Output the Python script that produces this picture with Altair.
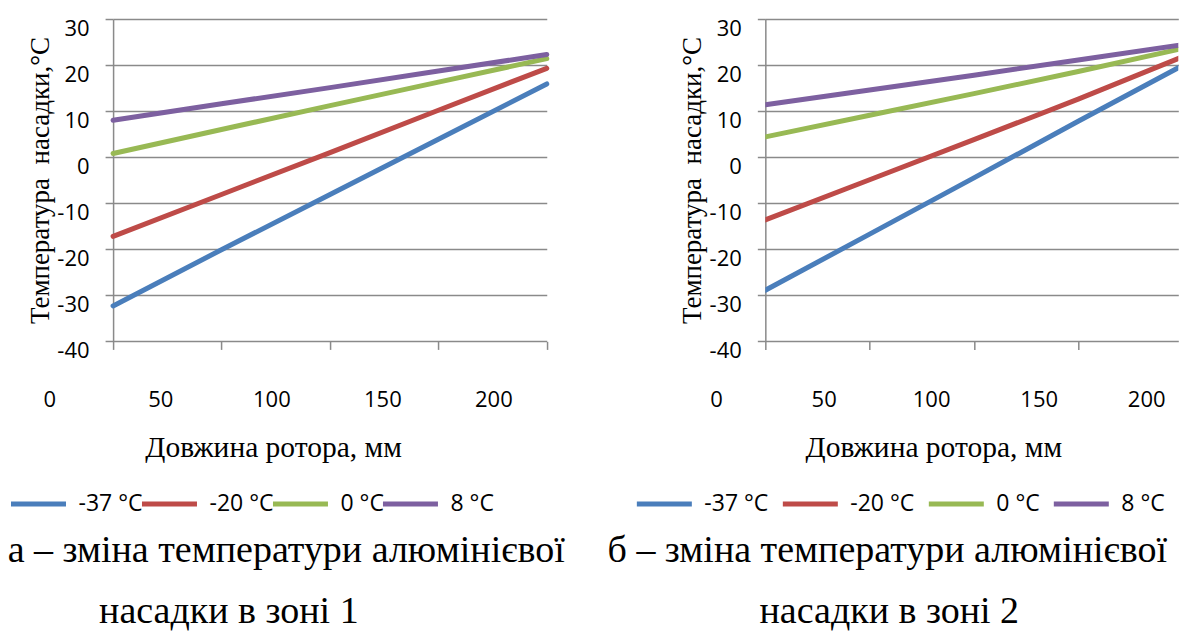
import altair as alt
import pandas as pd

series = ["-37 °C", "-20 °C", "0 °C", "8 °C"]
colors = ["#4A7EBB", "#BE4B48", "#98B954", "#7D60A0"]

# panel a (zone 1): positions of the category ticks on the mm label scale
x_a = [28.5, 77.3, 126.2, 175.0, 223.8]
a_m37 = [-32.3, -20.1, -8.1, 3.9, 15.9]
a_m20 = [-17.2, -8.1, 1.0, 10.2, 19.3]
a_0 = [0.8, 6.0, 11.2, 16.3, 21.4]
a_8 = [8.0, 11.6, 15.1, 18.7, 22.3]

# panel b (zone 2)
x_b = [22.65, 71.15, 119.65, 168.15, 216.65]
b_m37 = [-28.9, -16.7, -4.5, 7.8, 19.9]
b_m20 = [-13.6, -4.9, 3.8, 12.6, 21.8]
b_0 = [4.4, 9.1, 13.8, 18.6, 23.6]
b_8 = [11.4, 14.6, 17.8, 21.1, 24.4]

x_labels = [0, 50, 100, 150, 200]
y_ticks = [-40, -30, -20, -10, 0, 10, 20, 30]

y_title = "Температура\u00a0 насадки,°C"
x_title = "Довжина ротора, мм"
cap_a = ["а – зміна температури алюмінієвої", "насадки в зоні 1"]
cap_b = ["б – зміна температури алюмінієвої", "насадки в зоні 2"]

GRID = "#8a8a8a"
SERIF = "Liberation Serif"
SANS = "Open Sans"


def panel(xs_vals, vals, domain, width, xtick_vals, title_x, leg_x, leg_grid, leg_pad,
          caps, cap_x, clip):
    rows = []
    for s, v in zip(series, vals):
        for xv, yv in zip(xs_vals, v):
            rows.append({"x": xv, "t": yv, "s": s})
    df = pd.DataFrame(rows)
    xs = alt.Scale(domain=domain, nice=False, zero=False)
    ys = alt.Scale(domain=[-40, 30], nice=False, zero=False)
    x_axis = alt.Axis(
        values=xtick_vals, labels=False, ticks=True, tickSize=8, tickWidth=1.5,
        tickColor=GRID, domain=False, grid=False,
        title=x_title, titleFont=SERIF, titleFontSize=29.5, titleFontWeight="normal",
        titleColor="black", titleX=title_x, titleY=115.5, titleAlign="center",
        titleBaseline="alphabetic")
    color = alt.Color(
        "s:N",
        scale=alt.Scale(domain=series, range=colors),
        sort=series,
        legend=alt.Legend(
            orient="none", legendX=leg_x, legendY=455, direction="horizontal",
            columns=4, title=None, symbolType="stroke", symbolSize=3025,
            symbolStrokeWidth=5, labelFont=SANS, labelFontSize=23,
            labelColor="black", labelOffset=10, columnPadding=leg_pad,
            gridAlign=leg_grid, padding=0, labelLimit=200,
        ),
    )
    lines = alt.Chart(df).mark_line(strokeWidth=5, strokeCap="round", clip=clip).encode(
        x=alt.X("x:Q", scale=xs, axis=x_axis),
        y=alt.Y("t:Q", scale=ys, axis=alt.Axis(
            values=y_ticks, grid=True, gridColor=GRID, gridWidth=1.5,
            domain=True, domainColor=GRID, domainWidth=1.5,
            ticks=True, tickSize=8, tickColor=GRID, tickWidth=1.5,
            labelFont=SANS, labelFontSize=22, labelColor="black", labelPadding=16,
            labelOffset=9, labelFlush=False, labelBound=False,
            labelExpr="'' + datum.value",
            title=y_title, titleFont=SERIF, titleFontSize=27, titleFontWeight="normal",
            titleColor="black", titleAngle=270, titleX=-73, titleY=161,
            titleAlign="center", titleBaseline="middle")),
        color=color,
    )
    lab_df = pd.DataFrame({"x": x_labels, "lab": [str(v) for v in x_labels]})
    xlab = alt.Chart(lab_df).mark_text(
        font=SANS, fontSize=22, align="center", baseline="alphabetic", color="black"
    ).encode(x=alt.X("x:Q", scale=xs, axis=x_axis), y=alt.value(387.7), text="lab:N")
    layers = [lines, xlab]
    for txt, cx, cy in zip(caps, cap_x, [543.4, 603.7]):
        cdf = pd.DataFrame({"c": [txt]})
        layers.append(alt.Chart(cdf).mark_text(
            font=SERIF, fontSize=38, align="center", baseline="alphabetic", color="black"
        ).encode(x=alt.value(cx), y=alt.value(cy), text="c:N"))
    return alt.layer(*layers).properties(width=width, height=322.4)


left = panel(x_a, [a_m37, a_m20, a_0, a_8], [28.5, 223.8], 433.7, x_a, 160, -104.6,
             "none", -12, cap_a, [173.1, 115.8], False)
right = panel(x_b, [b_m37, b_m20, b_0, b_8], [22.65, 214.7], 413, x_b[:4], 168, -131,
              "none", 3, cap_b, [122, 124], True)

chart = alt.hconcat(left, right, spacing=218.3, bounds="flush").resolve_scale(
    color="independent", x="independent", y="independent"
).configure_view(stroke=None).properties(
    padding={"left": 7.1, "top": 17, "right": 0, "bottom": 0},
    background="white",
)

chart.save("out.html", embed_options={"renderer": "svg", "actions": False})
